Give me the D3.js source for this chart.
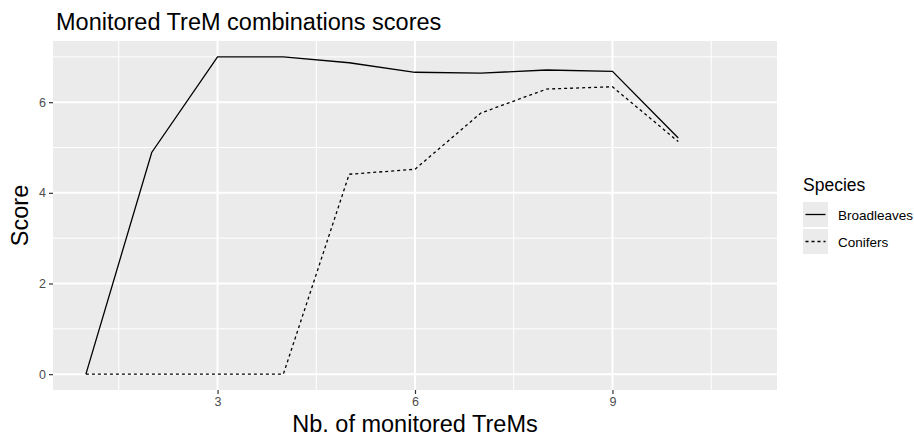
<!DOCTYPE html>
<html>
<head>
<meta charset="utf-8">
<style>
    body { margin: 0; background: #fff; }
    svg { font-family: "Liberation Sans", Arial, sans-serif; }
</style>
<script src="https://cdn.jsdelivr.net/npm/d3@7/dist/d3.min.js"></script>
</head>
<body>
<script>
// data
var nbTrems = [1, 2, 3, 4, 5, 6, 7, 8, 9, 10];
var broadleaves = [0, 4.89, 7.0, 7.0, 6.87, 6.66, 6.64, 6.71, 6.68, 5.21];
var conifers = [0, 0, 0, 0, 4.41, 4.52, 5.76, 6.29, 6.34, 5.13];
var speciesNames = ["Broadleaves", "Conifers"];
var xTicks = [3, 6, 9];
var yTicks = [0, 2, 4, 6];

var width = 914, height = 437;
var panel = {left: 53, top: 41, right: 777, bottom: 390};

var svg = d3.select("body").append("svg")
    .attr("width", width)
    .attr("height", height);

var x = d3.scaleLinear().domain([0.5, 11.5]).range([panel.left, panel.right]);
var y = d3.scaleLinear().domain([-0.35, 7.35]).range([panel.bottom, panel.top]);

// panel background
svg.append("rect")
    .attr("x", panel.left).attr("y", panel.top)
    .attr("width", panel.right - panel.left)
    .attr("height", panel.bottom - panel.top)
    .attr("fill", "#ebebeb");

// minor grid
var grid = svg.append("g").attr("stroke", "#fff");
grid.selectAll(".xminor").data([1.5, 4.5, 7.5, 10.5]).enter().append("line")
    .attr("x1", function(d) { return x(d); }).attr("x2", function(d) { return x(d); })
    .attr("y1", panel.top).attr("y2", panel.bottom)
    .attr("stroke-width", 1);
grid.selectAll(".yminor").data([1, 3, 5, 7]).enter().append("line")
    .attr("y1", function(d) { return y(d); }).attr("y2", function(d) { return y(d); })
    .attr("x1", panel.left).attr("x2", panel.right)
    .attr("stroke-width", 1);
// major grid
grid.selectAll(".xmajor").data(xTicks).enter().append("line")
    .attr("x1", function(d) { return x(d); }).attr("x2", function(d) { return x(d); })
    .attr("y1", panel.top).attr("y2", panel.bottom)
    .attr("stroke-width", 2);
grid.selectAll(".ymajor").data(yTicks).enter().append("line")
    .attr("y1", function(d) { return y(d); }).attr("y2", function(d) { return y(d); })
    .attr("x1", panel.left).attr("x2", panel.right)
    .attr("stroke-width", 2);

// axes
var xAxis = svg.append("g")
    .attr("transform", "translate(0," + panel.bottom + ")")
    .call(d3.axisBottom(x).tickValues(xTicks).tickSize(4).tickPadding(3).tickFormat(d3.format("d")));
var yAxis = svg.append("g")
    .attr("transform", "translate(" + panel.left + ",0)")
    .call(d3.axisLeft(y).tickValues(yTicks).tickSize(4).tickPadding(3).tickFormat(d3.format("d")));
[xAxis, yAxis].forEach(function(a) {
    a.select(".domain").remove();
    a.selectAll(".tick line").attr("stroke", "#333").attr("stroke-width", 1.2);
    a.selectAll(".tick text").attr("fill", "#4d4d4d").style("font-size", "12.5px")
        .style("font-family", "Liberation Sans, Arial, sans-serif");
});

// lines
var line = d3.line()
    .x(function(d) { return x(d[0]); })
    .y(function(d) { return y(d[1]); });

var series = [
    {name: speciesNames[0], values: d3.zip(nbTrems, broadleaves), dash: null},
    {name: speciesNames[1], values: d3.zip(nbTrems, conifers), dash: "3,3"}
];

svg.selectAll(".series").data(series).enter().append("path")
    .attr("class", "series")
    .attr("d", function(d) { return line(d.values); })
    .attr("fill", "none")
    .attr("stroke", "#000")
    .attr("stroke-width", 1.3)
    .attr("stroke-dasharray", function(d) { return d.dash; });

// titles
svg.append("text")
    .attr("x", 56).attr("y", 30)
    .style("font-size", "23.5px")
    .text("Monitored TreM combinations scores");

svg.append("text")
    .attr("x", (panel.left + panel.right) / 2).attr("y", 432)
    .attr("text-anchor", "middle")
    .style("font-size", "23.5px")
    .text("Nb. of monitored TreMs");

svg.append("text")
    .attr("transform", "translate(28," + (panel.top + panel.bottom) / 2 + ") rotate(-90)")
    .attr("text-anchor", "middle")
    .style("font-size", "23.5px")
    .text("Score");

// legend
var legend = svg.append("g").attr("transform", "translate(803,0)");
legend.append("text")
    .attr("x", 0).attr("y", 191)
    .style("font-size", "17.5px")
    .text("Species");

var key = legend.selectAll(".key").data(series).enter().append("g")
    .attr("class", "key")
    .attr("transform", function(d, i) { return "translate(0," + (202 + i * 27) + ")"; });
key.append("rect")
    .attr("width", 25).attr("height", 25)
    .attr("fill", "#ebebeb");
key.append("line")
    .attr("x1", 2.5).attr("x2", 22.5)
    .attr("y1", 12.5).attr("y2", 12.5)
    .attr("stroke", "#000").attr("stroke-width", 1.3)
    .attr("stroke-dasharray", function(d) { return d.dash; });
key.append("text")
    .attr("x", 35).attr("y", 17.5)
    .style("font-size", "13.5px")
    .text(function(d) { return d.name; });
</script>
</body>
</html>
